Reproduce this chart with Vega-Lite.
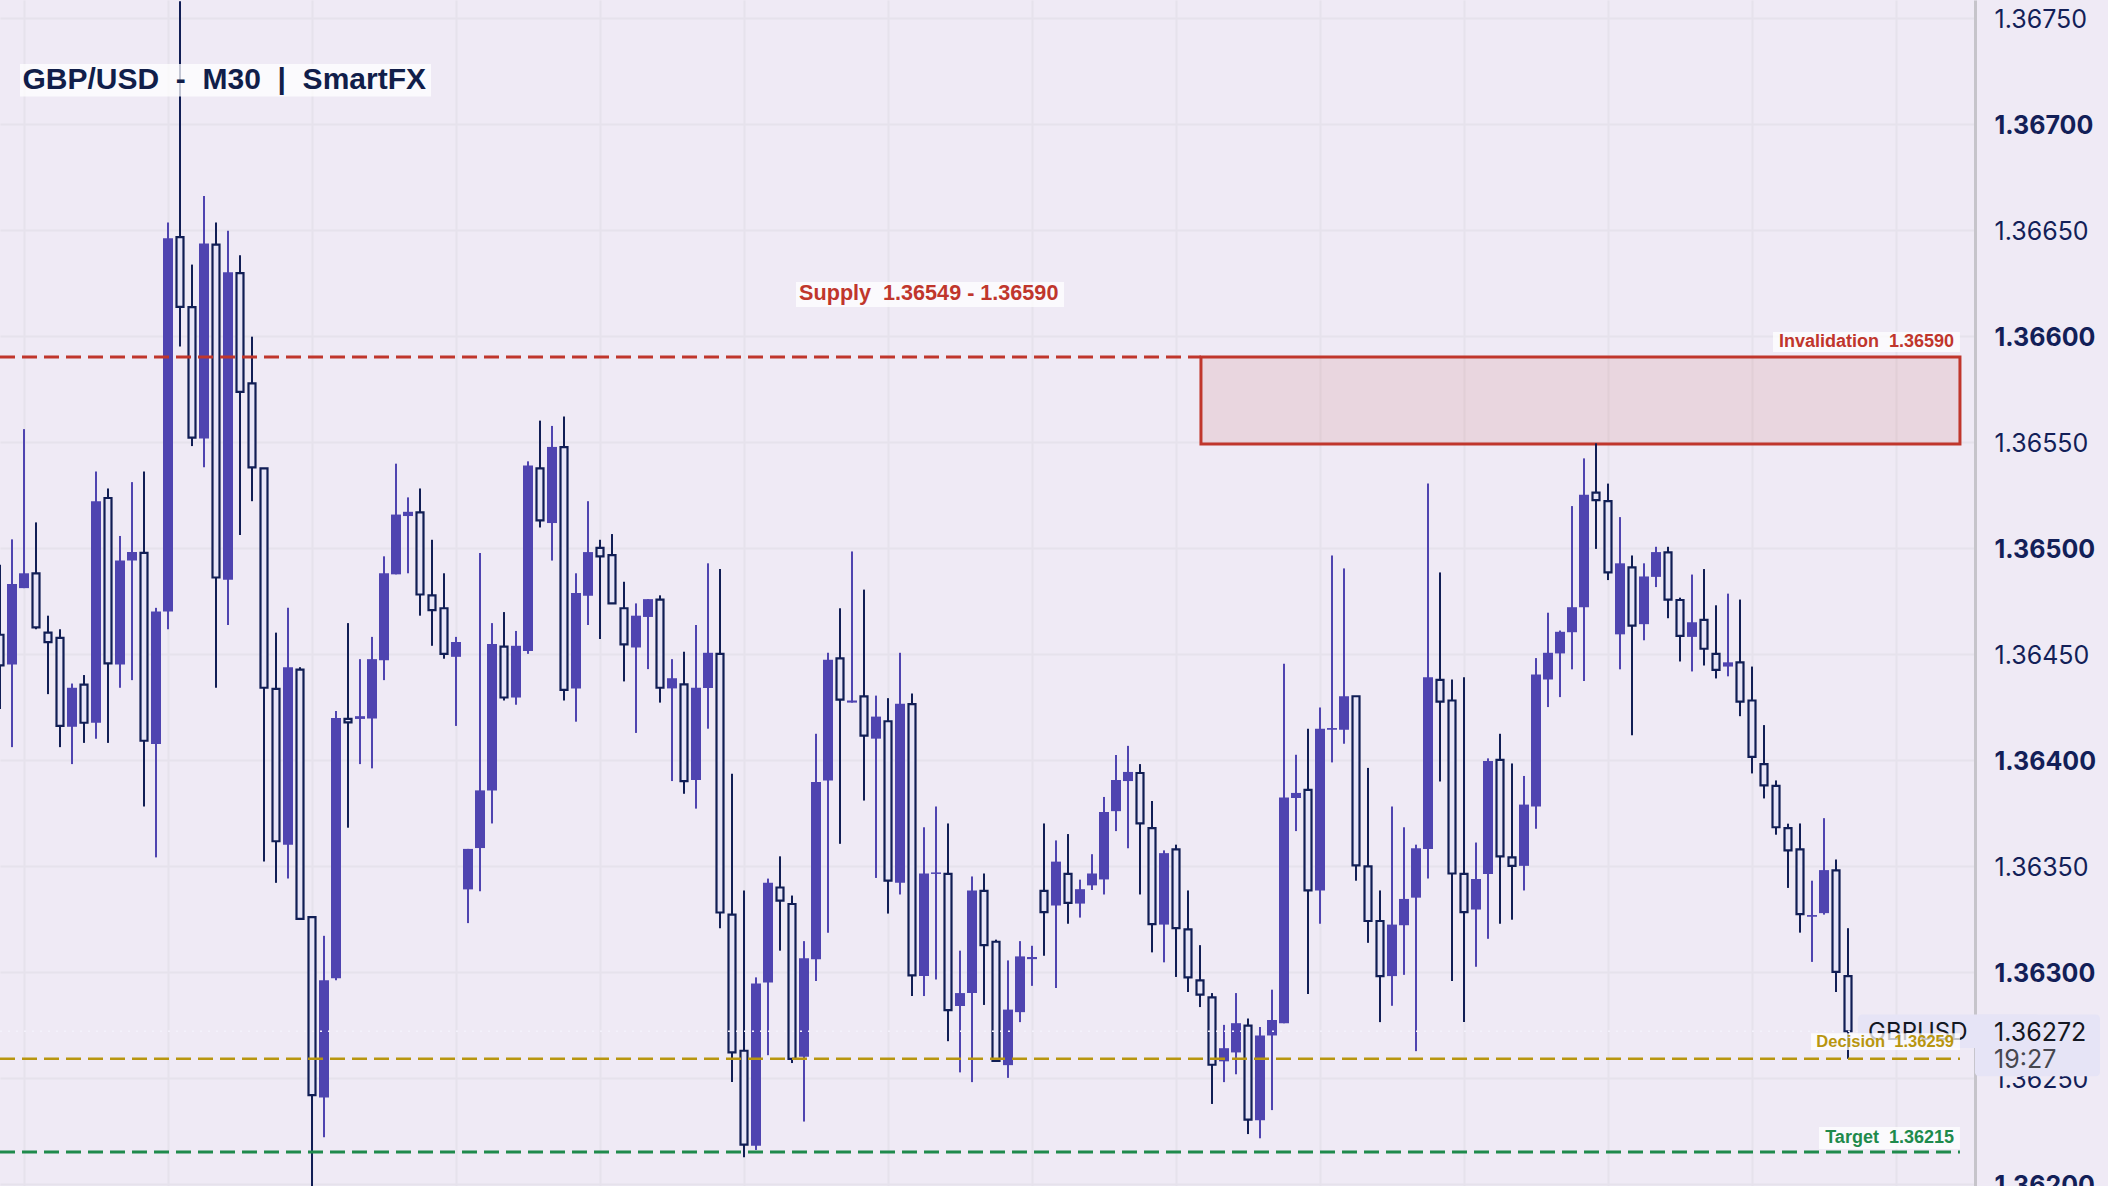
{
  "$schema": "https://vega.github.io/schema/vega-lite/v6.json",
  "autosize": {"type": "none"},
  "padding": {"left": 0, "top": 0, "right": 133, "bottom": 0},
  "width": 1975,
  "height": 1186,
  "background": "#efeaf5",
  "config": {"view": {"stroke": null}},
  "datasets": {
    "candles": [
      {"bar":0,"kind":"hollow","high":1.36492,"top":1.36459,"bottom":1.364446,"low":1.36424},
      {"bar":1,"kind":"solid","high":1.36504,"top":1.36483,"bottom":1.36445,"low":1.36406},
      {"bar":2,"kind":"solid","high":1.36556,"top":1.36488,"bottom":1.36481,"low":1.36481},
      {"bar":3,"kind":"hollow","high":1.36512,"top":1.36488,"bottom":1.364625,"low":1.364616},
      {"bar":4,"kind":"hollow","high":1.36468,"top":1.3646,"bottom":1.364555,"low":1.36431},
      {"bar":5,"kind":"hollow","high":1.364616,"top":1.364575,"bottom":1.36416,"low":1.36406},
      {"bar":6,"kind":"solid","high":1.36436,"top":1.36434,"bottom":1.364156,"low":1.36398},
      {"bar":7,"kind":"hollow","high":1.3644,"top":1.364355,"bottom":1.364175,"low":1.36408},
      {"bar":8,"kind":"solid","high":1.36536,"top":1.36522,"bottom":1.364175,"low":1.3641},
      {"bar":9,"kind":"hollow","high":1.36528,"top":1.365235,"bottom":1.364455,"low":1.36408},
      {"bar":10,"kind":"solid","high":1.365056,"top":1.36494,"bottom":1.36445,"low":1.36434},
      {"bar":11,"kind":"solid","high":1.36531,"top":1.36498,"bottom":1.36494,"low":1.364376},
      {"bar":12,"kind":"hollow","high":1.36536,"top":1.364976,"bottom":1.36409,"low":1.36378},
      {"bar":13,"kind":"solid","high":1.364717,"top":1.3647,"bottom":1.364075,"low":1.36354},
      {"bar":14,"kind":"solid","high":1.366534,"top":1.36646,"bottom":1.3647,"low":1.364616},
      {"bar":15,"kind":"hollow","high":1.367578,"top":1.366466,"bottom":1.366137,"low":1.36595},
      {"bar":16,"kind":"hollow","high":1.366336,"top":1.366135,"bottom":1.36552,"low":1.36548},
      {"bar":17,"kind":"solid","high":1.36666,"top":1.366435,"bottom":1.365516,"low":1.36538},
      {"bar":18,"kind":"hollow","high":1.366534,"top":1.36643,"bottom":1.36486,"low":1.36434},
      {"bar":19,"kind":"solid","high":1.366496,"top":1.3663,"bottom":1.36485,"low":1.364636},
      {"bar":20,"kind":"hollow","high":1.36638,"top":1.366296,"bottom":1.365736,"low":1.36506},
      {"bar":21,"kind":"hollow","high":1.365996,"top":1.365776,"bottom":1.36538,"low":1.36522},
      {"bar":22,"kind":"hollow","high":1.365375,"top":1.365375,"bottom":1.36434,"low":1.36352},
      {"bar":23,"kind":"hollow","high":1.3646,"top":1.364335,"bottom":1.363616,"low":1.36342},
      {"bar":24,"kind":"solid","high":1.364717,"top":1.364437,"bottom":1.3636,"low":1.36344},
      {"bar":25,"kind":"hollow","high":1.364437,"top":1.364426,"bottom":1.36325,"low":1.36325},
      {"bar":26,"kind":"hollow","high":1.363258,"top":1.363258,"bottom":1.362419,"low":1.36199},
      {"bar":27,"kind":"solid","high":1.36317,"top":1.36296,"bottom":1.362408,"low":1.36222},
      {"bar":28,"kind":"solid","high":1.36423,"top":1.364197,"bottom":1.36297,"low":1.36296},
      {"bar":29,"kind":"hollow","high":1.364645,"top":1.364193,"bottom":1.364177,"low":1.36368},
      {"bar":30,"kind":"solid","high":1.364475,"top":1.364206,"bottom":1.364193,"low":1.36398},
      {"bar":31,"kind":"solid","high":1.36458,"top":1.364475,"bottom":1.364195,"low":1.36396},
      {"bar":32,"kind":"solid","high":1.36496,"top":1.36488,"bottom":1.36447,"low":1.364376},
      {"bar":33,"kind":"solid","high":1.365397,"top":1.365157,"bottom":1.364875,"low":1.364875},
      {"bar":34,"kind":"solid","high":1.365238,"top":1.36517,"bottom":1.36515,"low":1.36488},
      {"bar":35,"kind":"hollow","high":1.36528,"top":1.365167,"bottom":1.36478,"low":1.36468},
      {"bar":36,"kind":"hollow","high":1.365038,"top":1.364776,"bottom":1.364706,"low":1.364538},
      {"bar":37,"kind":"hollow","high":1.36488,"top":1.364715,"bottom":1.3645,"low":1.364477},
      {"bar":38,"kind":"solid","high":1.36458,"top":1.364556,"bottom":1.364486,"low":1.36416},
      {"bar":39,"kind":"solid","high":1.36358,"top":1.36358,"bottom":1.363389,"low":1.36323},
      {"bar":40,"kind":"solid","high":1.364976,"top":1.363856,"bottom":1.363584,"low":1.36338},
      {"bar":41,"kind":"solid","high":1.364645,"top":1.364547,"bottom":1.363855,"low":1.3637},
      {"bar":42,"kind":"hollow","high":1.364697,"top":1.364534,"bottom":1.364294,"low":1.36428},
      {"bar":43,"kind":"solid","high":1.364608,"top":1.364538,"bottom":1.364294,"low":1.36426},
      {"bar":44,"kind":"solid","high":1.365408,"top":1.365388,"bottom":1.364514,"low":1.3645},
      {"bar":45,"kind":"hollow","high":1.3656,"top":1.365375,"bottom":1.36513,"low":1.365096},
      {"bar":46,"kind":"solid","high":1.365575,"top":1.365476,"bottom":1.365117,"low":1.36494},
      {"bar":47,"kind":"hollow","high":1.36562,"top":1.365475,"bottom":1.36433,"low":1.36428},
      {"bar":48,"kind":"solid","high":1.36488,"top":1.364787,"bottom":1.364337,"low":1.36418},
      {"bar":49,"kind":"solid","high":1.36522,"top":1.36498,"bottom":1.364774,"low":1.364636},
      {"bar":50,"kind":"hollow","high":1.365038,"top":1.365,"bottom":1.36496,"low":1.36457},
      {"bar":51,"kind":"hollow","high":1.365065,"top":1.364966,"bottom":1.364738,"low":1.364738},
      {"bar":52,"kind":"hollow","high":1.36484,"top":1.364715,"bottom":1.364545,"low":1.36437},
      {"bar":53,"kind":"solid","high":1.364738,"top":1.36468,"bottom":1.36453,"low":1.364127},
      {"bar":54,"kind":"solid","high":1.364758,"top":1.364758,"bottom":1.364674,"low":1.364428},
      {"bar":55,"kind":"hollow","high":1.364776,"top":1.364756,"bottom":1.36434,"low":1.36427},
      {"bar":56,"kind":"solid","high":1.364475,"top":1.364385,"bottom":1.364337,"low":1.3639},
      {"bar":57,"kind":"hollow","high":1.36451,"top":1.364356,"bottom":1.3639,"low":1.36384},
      {"bar":58,"kind":"solid","high":1.364636,"top":1.36434,"bottom":1.363905,"low":1.36377},
      {"bar":59,"kind":"solid","high":1.364927,"top":1.364505,"bottom":1.364339,"low":1.364147},
      {"bar":60,"kind":"hollow","high":1.3649,"top":1.3645,"bottom":1.36328,"low":1.363206},
      {"bar":61,"kind":"hollow","high":1.363934,"top":1.36327,"bottom":1.36262,"low":1.36248},
      {"bar":62,"kind":"hollow","high":1.363384,"top":1.362628,"bottom":1.362185,"low":1.362126},
      {"bar":63,"kind":"solid","high":1.362974,"top":1.362945,"bottom":1.36218,"low":1.36216},
      {"bar":64,"kind":"solid","high":1.36344,"top":1.36342,"bottom":1.36295,"low":1.362607},
      {"bar":65,"kind":"hollow","high":1.363545,"top":1.363398,"bottom":1.363336,"low":1.3631},
      {"bar":66,"kind":"hollow","high":1.36336,"top":1.36332,"bottom":1.36259,"low":1.36257},
      {"bar":67,"kind":"solid","high":1.363145,"top":1.363064,"bottom":1.3626,"low":1.362294},
      {"bar":68,"kind":"solid","high":1.364123,"top":1.363896,"bottom":1.36306,"low":1.362957},
      {"bar":69,"kind":"solid","high":1.364505,"top":1.364472,"bottom":1.363903,"low":1.363185},
      {"bar":70,"kind":"hollow","high":1.364715,"top":1.364479,"bottom":1.364284,"low":1.363604},
      {"bar":71,"kind":"solid","high":1.364983,"top":1.36428,"bottom":1.36427,"low":1.36427},
      {"bar":72,"kind":"hollow","high":1.364803,"top":1.364299,"bottom":1.364114,"low":1.363808},
      {"bar":73,"kind":"solid","high":1.364303,"top":1.364204,"bottom":1.3641,"low":1.363443},
      {"bar":74,"kind":"hollow","high":1.364291,"top":1.364182,"bottom":1.36343,"low":1.363275},
      {"bar":75,"kind":"solid","high":1.364505,"top":1.364265,"bottom":1.36342,"low":1.363365},
      {"bar":76,"kind":"hollow","high":1.364313,"top":1.364263,"bottom":1.362983,"low":1.362886},
      {"bar":77,"kind":"solid","high":1.363682,"top":1.363464,"bottom":1.36298,"low":1.362886},
      {"bar":78,"kind":"solid","high":1.36378,"top":1.363469,"bottom":1.363462,"low":1.362964},
      {"bar":79,"kind":"hollow","high":1.3637,"top":1.363462,"bottom":1.36282,"low":1.362673},
      {"bar":80,"kind":"solid","high":1.3631,"top":1.3629,"bottom":1.362839,"low":1.362526},
      {"bar":81,"kind":"solid","high":1.36345,"top":1.363384,"bottom":1.3629,"low":1.36248},
      {"bar":82,"kind":"hollow","high":1.363464,"top":1.363382,"bottom":1.363126,"low":1.362844},
      {"bar":83,"kind":"hollow","high":1.363152,"top":1.363142,"bottom":1.36258,"low":1.36258},
      {"bar":84,"kind":"solid","high":1.363054,"top":1.362822,"bottom":1.36256,"low":1.3625},
      {"bar":85,"kind":"solid","high":1.363145,"top":1.363073,"bottom":1.36281,"low":1.362763},
      {"bar":86,"kind":"solid","high":1.363123,"top":1.36307,"bottom":1.36306,"low":1.362934},
      {"bar":87,"kind":"hollow","high":1.3637,"top":1.363382,"bottom":1.363282,"low":1.363076},
      {"bar":88,"kind":"solid","high":1.36362,"top":1.36352,"bottom":1.363313,"low":1.362924},
      {"bar":89,"kind":"hollow","high":1.36365,"top":1.363462,"bottom":1.363325,"low":1.363227},
      {"bar":90,"kind":"solid","high":1.363435,"top":1.36339,"bottom":1.363322,"low":1.363256},
      {"bar":91,"kind":"solid","high":1.363555,"top":1.363464,"bottom":1.363408,"low":1.363386},
      {"bar":92,"kind":"solid","high":1.363825,"top":1.363754,"bottom":1.363436,"low":1.363365},
      {"bar":93,"kind":"solid","high":1.364023,"top":1.363905,"bottom":1.363758,"low":1.363664},
      {"bar":94,"kind":"solid","high":1.364066,"top":1.363943,"bottom":1.3639,"low":1.363583},
      {"bar":95,"kind":"hollow","high":1.36398,"top":1.363938,"bottom":1.3637,"low":1.363365},
      {"bar":96,"kind":"hollow","high":1.363806,"top":1.363678,"bottom":1.363225,"low":1.363092},
      {"bar":97,"kind":"solid","high":1.363573,"top":1.36356,"bottom":1.363223,"low":1.363045},
      {"bar":98,"kind":"hollow","high":1.3636,"top":1.363578,"bottom":1.363206,"low":1.362976},
      {"bar":99,"kind":"hollow","high":1.363384,"top":1.3632,"bottom":1.362974,"low":1.362905},
      {"bar":100,"kind":"hollow","high":1.363126,"top":1.36296,"bottom":1.362893,"low":1.362834},
      {"bar":101,"kind":"hollow","high":1.3629,"top":1.36288,"bottom":1.362562,"low":1.362377},
      {"bar":102,"kind":"solid","high":1.36275,"top":1.36264,"bottom":1.362578,"low":1.36248},
      {"bar":103,"kind":"solid","high":1.3629,"top":1.362758,"bottom":1.36262,"low":1.362517},
      {"bar":104,"kind":"hollow","high":1.36278,"top":1.362746,"bottom":1.362303,"low":1.362235},
      {"bar":105,"kind":"solid","high":1.36274,"top":1.3627,"bottom":1.3623,"low":1.362215},
      {"bar":106,"kind":"solid","high":1.362916,"top":1.362773,"bottom":1.3627,"low":1.362348},
      {"bar":107,"kind":"solid","high":1.364453,"top":1.363822,"bottom":1.362758,"low":1.362758},
      {"bar":108,"kind":"solid","high":1.364024,"top":1.363844,"bottom":1.36382,"low":1.363664},
      {"bar":109,"kind":"hollow","high":1.364147,"top":1.363858,"bottom":1.363384,"low":1.362896},
      {"bar":110,"kind":"solid","high":1.364247,"top":1.364147,"bottom":1.363384,"low":1.363227},
      {"bar":111,"kind":"solid","high":1.364964,"top":1.36415,"bottom":1.364142,"low":1.363988},
      {"bar":112,"kind":"solid","high":1.364903,"top":1.3643,"bottom":1.364142,"low":1.364076},
      {"bar":113,"kind":"hollow","high":1.3643,"top":1.3643,"bottom":1.363502,"low":1.36343},
      {"bar":114,"kind":"hollow","high":1.363962,"top":1.363498,"bottom":1.36324,"low":1.363137},
      {"bar":115,"kind":"hollow","high":1.363384,"top":1.36324,"bottom":1.36298,"low":1.362763},
      {"bar":116,"kind":"solid","high":1.36378,"top":1.363223,"bottom":1.36298,"low":1.36284},
      {"bar":117,"kind":"solid","high":1.363682,"top":1.363344,"bottom":1.36322,"low":1.362986},
      {"bar":118,"kind":"solid","high":1.3636,"top":1.363583,"bottom":1.36335,"low":1.362626},
      {"bar":119,"kind":"solid","high":1.365303,"top":1.36439,"bottom":1.36358,"low":1.36344},
      {"bar":120,"kind":"hollow","high":1.364884,"top":1.364377,"bottom":1.364275,"low":1.363898},
      {"bar":121,"kind":"hollow","high":1.364379,"top":1.36428,"bottom":1.363464,"low":1.362957},
      {"bar":122,"kind":"hollow","high":1.36439,"top":1.363462,"bottom":1.363282,"low":1.362763},
      {"bar":123,"kind":"solid","high":1.36361,"top":1.363438,"bottom":1.363294,"low":1.363024},
      {"bar":124,"kind":"solid","high":1.364007,"top":1.363995,"bottom":1.363462,"low":1.363156},
      {"bar":125,"kind":"hollow","high":1.364123,"top":1.364,"bottom":1.363545,"low":1.363227},
      {"bar":126,"kind":"hollow","high":1.363983,"top":1.36354,"bottom":1.3635,"low":1.363246},
      {"bar":127,"kind":"solid","high":1.363924,"top":1.363789,"bottom":1.3635,"low":1.363384},
      {"bar":128,"kind":"solid","high":1.36448,"top":1.364403,"bottom":1.36378,"low":1.363675},
      {"bar":129,"kind":"solid","high":1.364694,"top":1.364505,"bottom":1.364379,"low":1.364249},
      {"bar":130,"kind":"solid","high":1.36461,"top":1.364604,"bottom":1.364502,"low":1.364296},
      {"bar":131,"kind":"solid","high":1.365197,"top":1.36472,"bottom":1.364602,"low":1.364427},
      {"bar":132,"kind":"solid","high":1.365422,"top":1.36525,"bottom":1.36472,"low":1.364372},
      {"bar":133,"kind":"hollow","high":1.365493,"top":1.36526,"bottom":1.365225,"low":1.364995},
      {"bar":134,"kind":"hollow","high":1.365303,"top":1.36522,"bottom":1.364884,"low":1.364848},
      {"bar":135,"kind":"solid","high":1.365145,"top":1.364927,"bottom":1.364592,"low":1.364427},
      {"bar":136,"kind":"hollow","high":1.364964,"top":1.364908,"bottom":1.364633,"low":1.364116},
      {"bar":137,"kind":"solid","high":1.364927,"top":1.364865,"bottom":1.36464,"low":1.364564},
      {"bar":138,"kind":"solid","high":1.365005,"top":1.36498,"bottom":1.364863,"low":1.364815},
      {"bar":139,"kind":"hollow","high":1.365005,"top":1.364979,"bottom":1.364756,"low":1.364668},
      {"bar":140,"kind":"hollow","high":1.364765,"top":1.364754,"bottom":1.364585,"low":1.364464},
      {"bar":141,"kind":"solid","high":1.364874,"top":1.364649,"bottom":1.36458,"low":1.364417},
      {"bar":142,"kind":"hollow","high":1.3649,"top":1.36466,"bottom":1.364524,"low":1.364445},
      {"bar":143,"kind":"hollow","high":1.364729,"top":1.3645,"bottom":1.364424,"low":1.364384},
      {"bar":144,"kind":"solid","high":1.364784,"top":1.36446,"bottom":1.36444,"low":1.364394},
      {"bar":145,"kind":"hollow","high":1.364756,"top":1.36446,"bottom":1.364275,"low":1.364206},
      {"bar":146,"kind":"hollow","high":1.36444,"top":1.36428,"bottom":1.364014,"low":1.363936},
      {"bar":147,"kind":"hollow","high":1.364164,"top":1.36398,"bottom":1.36388,"low":1.363818},
      {"bar":148,"kind":"hollow","high":1.363903,"top":1.363877,"bottom":1.363682,"low":1.363647},
      {"bar":149,"kind":"hollow","high":1.363699,"top":1.363678,"bottom":1.363573,"low":1.363396},
      {"bar":150,"kind":"hollow","high":1.3637,"top":1.363578,"bottom":1.363272,"low":1.363185},
      {"bar":151,"kind":"solid","high":1.36343,"top":1.363268,"bottom":1.36326,"low":1.363047},
      {"bar":152,"kind":"solid","high":1.363725,"top":1.36348,"bottom":1.363277,"low":1.36327},
      {"bar":153,"kind":"hollow","high":1.36353,"top":1.363479,"bottom":1.363,"low":1.362905},
      {"bar":154,"kind":"hollow","high":1.363206,"top":1.36298,"bottom":1.36272,"low":1.36259}
    ],
    "notes": [
      {"text":"GBP/USD\u00a0\u00a0-\u00a0\u00a0M30\u00a0\u00a0|\u00a0\u00a0SmartFX","level":"title","bar":35.5,"price":1.367207,"left":1.667,"right":35.92,"upper":1.367282,"lower":1.367129},
      {"text":"Supply\u00a0\u00a01.36549 - 1.36590","level":"supply","bar":88.2,"price":1.366195,"left":66.33,"right":88.67,"upper":1.366254,"lower":1.366136},
      {"text":"Invalidation\u00a0\u00a01.36590","level":"invalidation","bar":162.83,"price":1.365971,"left":147.75,"right":163.33,"upper":1.366018,"lower":1.365924},
      {"text":"Decision\u00a0\u00a01.36259","level":"decision","bar":162.83,"price":1.362671,"left":150.92,"right":163.33,"upper":1.362711,"lower":1.362631},
      {"text":"Target\u00a0\u00a01.36215","level":"target","bar":162.83,"price":1.362216,"left":151.58,"right":163.33,"upper":1.362268,"lower":1.362164}
    ]
  },
  "layer": [
    {
      "data": {"values": [{"left": 100.08, "right": 163.33, "upper": 1.3659, "lower": 1.36549}]},
      "mark": {"type": "rect", "fill": "#c0362c", "fillOpacity": 0.11, "stroke": "#c0362c", "strokeWidth": 3},
      "encoding": {
        "x": {"field": "left", "type": "quantitative", "scale": {"domain": [0, 164.583], "nice": false, "zero": false, "padding": 0},
          "axis": {"title": null, "labels": false, "ticks": false, "domain": false, "grid": true, "gridColor": "#e6e2ec", "gridWidth": 2,
            "values": [2, 14, 26, 38, 50, 62, 74, 86, 98, 110, 122, 134, 146, 158]}},
        "x2": {"field": "right"},
        "y": {"field": "upper", "type": "quantitative", "scale": {"domain": [1.36199, 1.367584], "nice": false, "zero": false, "padding": 0},
          "axis": {"title": null, "orient": "right", "ticks": false, "domain": true, "domainColor": "#c6c4ca", "domainWidth": 3,
            "grid": true, "gridColor": "#e6e2ec", "gridWidth": 2, "format": ".5f", "labelPadding": 19, "labelOffset": 2, "labelOverlap": false, "labelBound": false,
            "labelFont": "Inter", "labelFontSize": 25, "labelColor": "#131f58",
            "labelFontWeight": {"expr": "round(datum.value*10000)%10==0 ? 'bold' : 'normal'"},
            "values": [1.362, 1.3625, 1.363, 1.3635, 1.364, 1.3645, 1.365, 1.3655, 1.366, 1.3665, 1.367, 1.3675]}},
        "y2": {"field": "lower"}
      }
    },
    {
      "data": {"name": "candles"},
      "mark": {"type": "rule", "strokeWidth": 2},
      "encoding": {
        "x": {"field": "bar", "type": "quantitative"},
        "y": {"field": "high", "type": "quantitative"},
        "y2": {"field": "low"},
        "color": {"field": "kind", "type": "nominal", "scale": {"domain": ["solid", "hollow"], "range": ["#4f44b0", "#111e55"]}, "legend": null}
      }
    },
    {
      "data": {"name": "candles"},
      "transform": [{"filter": "datum.kind == 'solid'"}],
      "mark": {"type": "bar", "orient": "vertical", "size": 10, "color": "#4f44b0"},
      "encoding": {
        "x": {"field": "bar", "type": "quantitative"},
        "y": {"field": "top", "type": "quantitative"},
        "y2": {"field": "bottom"}
      }
    },
    {
      "data": {"name": "candles"},
      "transform": [{"filter": "datum.kind == 'hollow'"}],
      "mark": {"type": "bar", "orient": "vertical", "size": 7, "fill": "#e7e5f7", "stroke": "#111e55", "strokeWidth": 2.2},
      "encoding": {
        "x": {"field": "bar", "type": "quantitative"},
        "y": {"field": "top", "type": "quantitative"},
        "y2": {"field": "bottom"}
      }
    },
    {
      "data": {"values": [{"from": 0, "to": 164.583, "price": 1.36272}]},
      "mark": {"type": "rule", "color": "#f4f2fc", "strokeWidth": 1.5, "strokeDash": [2, 6]},
      "encoding": {
        "x": {"field": "from", "type": "quantitative"},
        "x2": {"field": "to"},
        "y": {"field": "price", "type": "quantitative"}
      }
    },
    {
      "data": {"values": [
        {"level": "supply", "from": 0, "to": 100.08, "price": 1.3659},
        {"level": "target", "from": 0, "to": 163.33, "price": 1.36215}
      ]},
      "mark": {"type": "rule", "strokeWidth": 3, "strokeDash": [15, 7]},
      "encoding": {
        "x": {"field": "from", "type": "quantitative"},
        "x2": {"field": "to"},
        "y": {"field": "price", "type": "quantitative"},
        "color": {"field": "level", "type": "nominal", "scale": {"domain": ["supply", "target"], "range": ["#c0362c", "#1f8a4c"]}, "legend": null}
      }
    },
    {
      "data": {"values": [{"from": 0, "to": 163.33, "price": 1.36259}]},
      "mark": {"type": "rule", "color": "#b8960f", "strokeWidth": 2.5, "strokeDash": [15, 7]},
      "encoding": {
        "x": {"field": "from", "type": "quantitative"},
        "x2": {"field": "to"},
        "y": {"field": "price", "type": "quantitative"}
      }
    },
    {
      "data": {"values": [
        {"left": 154.83, "right": 170, "upper": 1.362799, "lower": 1.362641},
        {"left": 164.58, "right": 175, "upper": 1.362799, "lower": 1.362508}
      ]},
      "mark": {"type": "rect", "fill": "#e6e4f6", "cornerRadius": 4},
      "encoding": {
        "x": {"field": "left", "type": "quantitative"},
        "x2": {"field": "right"},
        "y": {"field": "upper", "type": "quantitative"},
        "y2": {"field": "lower"}
      }
    },
    {
      "data": {"values": [{"text": "GBPUSD", "bar": 155.67, "price": 1.36271}]},
      "mark": {"type": "text", "align": "left", "baseline": "middle", "font": "Inter", "fontSize": 24, "color": "#131722"},
      "encoding": {
        "x": {"field": "bar", "type": "quantitative"},
        "y": {"field": "price", "type": "quantitative"},
        "text": {"field": "text", "type": "nominal"}
      }
    },
    {
      "data": {"values": [{"text": "1.36272", "bar": 166.17, "price": 1.36271}]},
      "mark": {"type": "text", "align": "left", "baseline": "middle", "font": "Inter", "fontSize": 25, "color": "#131722"},
      "encoding": {
        "x": {"field": "bar", "type": "quantitative"},
        "y": {"field": "price", "type": "quantitative"},
        "text": {"field": "text", "type": "nominal"}
      }
    },
    {
      "data": {"values": [{"text": "19:27", "bar": 166.17, "price": 1.362585}]},
      "mark": {"type": "text", "align": "left", "baseline": "middle", "font": "Inter", "fontSize": 25, "color": "#47474f"},
      "encoding": {
        "x": {"field": "bar", "type": "quantitative"},
        "y": {"field": "price", "type": "quantitative"},
        "text": {"field": "text", "type": "nominal"}
      }
    },
    {
      "data": {"name": "notes"},
      "mark": {"type": "rect", "fill": "#ffffff", "fillOpacity": 0.75},
      "encoding": {
        "x": {"field": "left", "type": "quantitative"},
        "x2": {"field": "right"},
        "y": {"field": "upper", "type": "quantitative"},
        "y2": {"field": "lower"}
      }
    },
    {
      "data": {"name": "notes"},
      "mark": {"type": "text", "align": "right", "baseline": "middle", "font": "Liberation Sans", "fontWeight": "bold"},
      "encoding": {
        "x": {"field": "bar", "type": "quantitative"},
        "y": {"field": "price", "type": "quantitative"},
        "text": {"field": "text", "type": "nominal"},
        "color": {"field": "level", "type": "nominal", "legend": null,
          "scale": {"domain": ["title", "supply", "invalidation", "decision", "target"], "range": ["#111e4a", "#c0362c", "#c0362c", "#b8960f", "#1f8a4c"]}},
        "size": {"field": "level", "type": "nominal", "legend": null,
          "scale": {"type": "ordinal", "domain": ["title", "supply", "invalidation", "decision", "target"], "range": [30, 21.6, 18, 16.5, 18]}}
      }
    }
  ],
  "resolve": {"scale": {"color": "independent", "size": "independent"}}
}
